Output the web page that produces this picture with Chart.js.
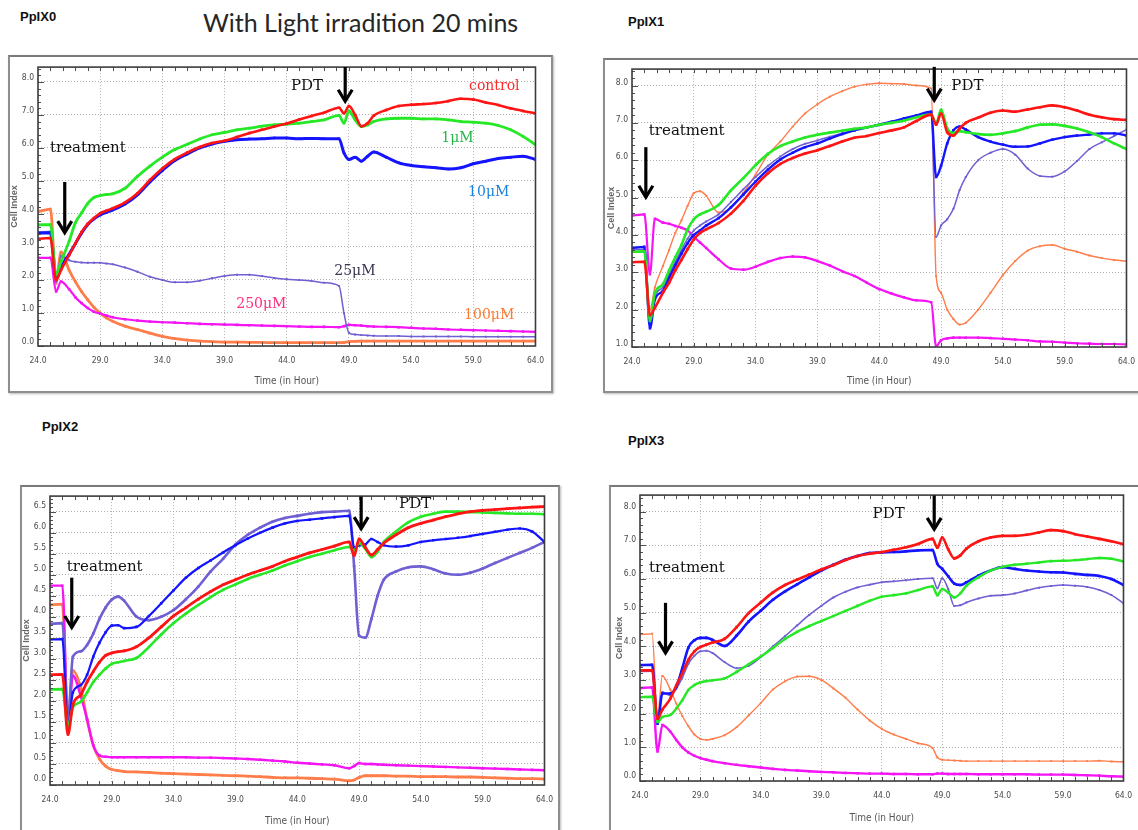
<!DOCTYPE html>
<html><head><meta charset="utf-8">
<script src="https://cdn.jsdelivr.net/npm/chart.js@4.4.1/dist/chart.umd.min.js"></script>
<style>
html,body{margin:0;padding:0;background:#fff;}
body{width:1138px;height:830px;overflow:hidden;position:relative;}
.frame{position:absolute;border:2px solid #8e8e8e;border-top-color:#7a7a7a;background:#fff;box-sizing:border-box;box-shadow:1px 1px 2px #bbb;}
canvas{position:absolute;}
.ptitle{position:absolute;font:bold 13px 'Liberation Sans',Arial,sans-serif;color:#111;white-space:nowrap;}
#main{position:absolute;left:203px;top:7px;font:25px Lato,'Open Sans',sans-serif;color:#262626;white-space:nowrap;}
</style></head><body>
<div class="frame" style="left:8px;top:55px;width:545px;height:338px"></div>
<div class="frame" style="left:603px;top:58px;width:545px;height:335px"></div>
<div class="frame" style="left:20px;top:485px;width:540px;height:360px"></div>
<div class="frame" style="left:609px;top:485px;width:540px;height:360px"></div>
<div class="ptitle" style="left:20px;top:9px">PpIX0</div>
<div class="ptitle" style="left:628px;top:14px">PpIX1</div>
<div class="ptitle" style="left:42px;top:419px">PpIX2</div>
<div class="ptitle" style="left:628px;top:433px">PpIX3</div>
<div id="main">With Light irradition 20 mins</div>
<canvas id="c0" width="556" height="336" style="left:-2px;top:58px"></canvas>
<canvas id="c1" width="553" height="335" style="left:592px;top:60px"></canvas>
<canvas id="c2" width="553" height="346" style="left:10px;top:487px"></canvas>
<canvas id="c3" width="542" height="343" style="left:600px;top:486px"></canvas>
<script>
// time axis (hours) shared by every panel
const hours = [24, 25, 25.45, 25.85, 26.5, 27, 27.5, 28, 28.5, 29, 29.5, 30, 31, 32, 33, 34, 35, 36, 37, 38, 39, 40, 41, 42, 43, 44, 45, 46, 47, 48.2, 48.6, 49, 49.5, 50, 50.5, 51, 52, 53, 54, 55, 56, 57, 58, 59, 60, 61, 62, 63, 64];

const seriesNames = ['control', '1μM', '10μM', '25μM', '250μM', '100μM'];
const seriesColors = ['#ff1414', '#26e826', '#1414ff', '#6e5fd2', '#f414f4', '#ff7d4a'];

// PpIX0
const p0Control = [3.25, 3.27, 2.0, 2.3, 2.75, 3.1, 3.45, 3.7, 3.88, 4.02, 4.1, 4.17, 4.35, 4.63, 5.03, 5.38, 5.66, 5.86, 6.03, 6.15, 6.22, 6.33, 6.45, 6.55, 6.65, 6.74, 6.86, 6.97, 7.07, 7.22, 7.05, 7.27, 7.0, 6.66, 6.75, 6.98, 7.15, 7.27, 7.31, 7.33, 7.36, 7.42, 7.49, 7.47, 7.38, 7.3, 7.2, 7.12, 7.05];
const p0M1 = [3.67, 3.68, 2.15, 2.55, 3.17, 3.73, 4.03, 4.32, 4.5, 4.56, 4.59, 4.61, 4.78, 5.14, 5.45, 5.72, 5.95, 6.11, 6.27, 6.4, 6.47, 6.55, 6.6, 6.66, 6.7, 6.72, 6.75, 6.8, 6.85, 6.99, 6.75, 7.12, 6.85, 6.65, 6.7, 6.8, 6.88, 6.9, 6.9, 6.88, 6.88, 6.85, 6.8, 6.78, 6.75, 6.68, 6.55, 6.35, 6.1];
const p0M10 = [3.42, 3.43, 2.1, 2.4, 2.78, 3.1, 3.42, 3.68, 3.85, 3.97, 4.05, 4.12, 4.3, 4.58, 4.97, 5.32, 5.62, 5.82, 6.0, 6.12, 6.2, 6.25, 6.27, 6.28, 6.3, 6.3, 6.28, 6.29, 6.28, 6.28, 5.85, 5.65, 5.72, 5.6, 5.75, 5.88, 5.72, 5.55, 5.47, 5.43, 5.4, 5.36, 5.4, 5.52, 5.6, 5.68, 5.72, 5.75, 5.65];
const p0M25 = [3.45, 3.47, 1.95, 2.72, 2.6, 2.55, 2.53, 2.52, 2.52, 2.52, 2.5, 2.48, 2.38, 2.25, 2.1, 2.0, 1.93, 1.93, 1.98, 2.05, 2.12, 2.16, 2.16, 2.12, 2.06, 2.02, 2.0, 1.97, 1.92, 1.82, 1.0, 0.4, 0.35, 0.33, 0.32, 0.31, 0.3, 0.3, 0.29, 0.29, 0.29, 0.29, 0.29, 0.28, 0.28, 0.28, 0.28, 0.28, 0.28];
const p0M250 = [2.67, 2.67, 1.65, 1.95, 1.72, 1.48, 1.3, 1.15, 1.04, 0.98, 0.92, 0.87, 0.81, 0.77, 0.74, 0.72, 0.71, 0.69, 0.67, 0.66, 0.65, 0.64, 0.63, 0.62, 0.61, 0.6, 0.59, 0.58, 0.58, 0.57, 0.6, 0.64, 0.63, 0.62, 0.6, 0.59, 0.58, 0.57, 0.55, 0.53, 0.52, 0.5, 0.49, 0.48, 0.47, 0.46, 0.45, 0.44, 0.43];
const p0M100 = [4.07, 4.15, 1.9, 2.85, 2.3, 1.95, 1.65, 1.4, 1.17, 1.0, 0.85, 0.75, 0.6, 0.5, 0.39, 0.29, 0.22, 0.18, 0.15, 0.13, 0.12, 0.12, 0.11, 0.11, 0.1, 0.1, 0.1, 0.1, 0.1, 0.1, 0.11, 0.13, 0.14, 0.15, 0.15, 0.15, 0.15, 0.15, 0.15, 0.15, 0.15, 0.15, 0.15, 0.15, 0.15, 0.15, 0.15, 0.15, 0.15];

// PpIX1
const p1Control = [3.27, 3.28, 1.85, 2.05, 2.45, 2.72, 3.05, 3.33, 3.62, 3.88, 4.05, 4.15, 4.32, 4.57, 4.91, 5.32, 5.65, 5.9, 6.06, 6.18, 6.27, 6.38, 6.5, 6.6, 6.65, 6.73, 6.8, 6.88, 7.05, 7.22, 6.95, 7.25, 6.75, 6.66, 6.85, 7.0, 7.14, 7.27, 7.33, 7.3, 7.36, 7.42, 7.47, 7.42, 7.33, 7.22, 7.15, 7.1, 7.08];
const p1M1 = [3.55, 3.56, 1.7, 2.44, 2.68, 3.05, 3.4, 3.73, 4.15, 4.42, 4.55, 4.62, 4.8, 5.19, 5.52, 5.87, 6.17, 6.38, 6.5, 6.61, 6.68, 6.74, 6.79, 6.84, 6.88, 6.95, 7.0, 7.06, 7.15, 7.22, 6.98, 7.35, 6.85, 6.73, 6.78, 6.75, 6.7, 6.68, 6.72, 6.78, 6.88, 6.95, 6.96, 6.92, 6.85, 6.75, 6.62, 6.45, 6.3];
const p1M10 = [3.65, 3.68, 1.5, 2.27, 2.5, 2.85, 3.18, 3.5, 3.78, 4.0, 4.12, 4.25, 4.45, 4.74, 5.08, 5.43, 5.75, 6.02, 6.2, 6.35, 6.45, 6.58, 6.7, 6.8, 6.88, 6.95, 7.03, 7.12, 7.2, 7.3, 5.55, 5.85, 6.45, 6.8, 6.9, 6.82, 6.62, 6.5, 6.42, 6.36, 6.37, 6.45, 6.55, 6.62, 6.66, 6.69, 6.72, 6.72, 6.66];
const p1M25 = [3.6, 3.62, 1.6, 2.35, 2.6, 2.95, 3.28, 3.6, 3.9, 4.12, 4.25, 4.36, 4.55, 4.88, 5.22, 5.55, 5.85, 6.1, 6.3, 6.44, 6.53, 6.63, 6.72, 6.8, 6.88, 6.96, 7.03, 7.1, 7.17, 7.25, 3.95, 4.25, 4.42, 4.7, 5.2, 5.55, 6.0, 6.2, 6.3, 6.15, 5.78, 5.58, 5.56, 5.7, 5.98, 6.3, 6.48, 6.65, 6.82];
const p1M250 = [4.52, 4.55, 2.95, 4.43, 4.33, 4.3, 4.24, 4.19, 4.12, 3.95, 3.8, 3.65, 3.35, 3.1, 3.07, 3.15, 3.28, 3.38, 3.42, 3.4, 3.3, 3.18, 3.03, 2.9, 2.72, 2.55, 2.43, 2.33, 2.25, 2.2, 1.02, 1.18, 1.23, 1.25, 1.25, 1.25, 1.25, 1.24, 1.22, 1.2, 1.18, 1.15, 1.14, 1.12, 1.1, 1.09, 1.08, 1.08, 1.07];
const p1M100 = [3.55, 3.56, 2.0, 2.6, 3.17, 3.6, 4.05, 4.39, 4.78, 5.12, 5.17, 5.05, 4.6, 4.72, 5.12, 5.62, 6.15, 6.5, 6.9, 7.25, 7.5, 7.7, 7.85, 7.97, 8.03, 8.06, 8.05, 8.04, 8.0, 7.92, 2.9, 2.45, 2.0, 1.75, 1.6, 1.65, 2.0, 2.45, 2.92, 3.3, 3.58, 3.7, 3.73, 3.63, 3.55, 3.45, 3.38, 3.33, 3.3];

// PpIX2
const p2Control = [2.62, 2.63, 1.2, 1.9, 2.15, 2.45, 2.7, 2.92, 3.08, 3.14, 3.17, 3.19, 3.29, 3.5, 3.76, 4.02, 4.22, 4.42, 4.6, 4.76, 4.88, 5.0, 5.1, 5.2, 5.32, 5.42, 5.52, 5.6, 5.68, 5.78, 5.45, 5.85, 5.65, 5.47, 5.6, 5.75, 5.95, 6.12, 6.22, 6.3, 6.38, 6.45, 6.5, 6.53, 6.55, 6.57, 6.59, 6.61, 6.62];
const p2M1 = [2.27, 2.28, 1.4, 1.85, 1.98, 2.2, 2.45, 2.62, 2.77, 2.88, 2.92, 2.95, 3.02, 3.28, 3.58, 3.85, 4.08, 4.28, 4.47, 4.64, 4.77, 4.9, 5.0, 5.1, 5.22, 5.32, 5.42, 5.5, 5.58, 5.66, 5.58, 5.75, 5.62, 5.42, 5.55, 5.78, 6.03, 6.25, 6.38, 6.45, 6.5, 6.5, 6.49, 6.48, 6.47, 6.46, 6.45, 6.45, 6.44];
const p2M10 = [3.46, 3.47, 1.35, 2.2, 2.38, 2.62, 3.05, 3.38, 3.63, 3.79, 3.8, 3.73, 3.76, 4.02, 4.32, 4.63, 4.93, 5.16, 5.34, 5.53, 5.7, 5.86, 6.0, 6.12, 6.22, 6.28, 6.31, 6.34, 6.37, 6.4, 5.65, 5.7, 5.72, 5.85, 5.78, 5.7, 5.67, 5.7, 5.78, 5.82, 5.85, 5.88, 5.92, 5.97, 6.02, 6.07, 6.1, 6.03, 5.78];
const p2M25 = [3.83, 3.85, 1.55, 3.05, 3.18, 3.33, 3.6, 3.95, 4.22, 4.41, 4.48, 4.38, 4.0, 3.92, 4.0, 4.16, 4.42, 4.72, 5.08, 5.38, 5.72, 5.95, 6.12, 6.26, 6.35, 6.4, 6.45, 6.49, 6.5, 6.52, 5.2, 3.55, 3.5, 3.95, 4.5, 4.88, 5.08, 5.18, 5.2, 5.13, 5.03, 5.0, 5.05, 5.15, 5.28, 5.4, 5.52, 5.64, 5.78];
const p2M250 = [4.74, 4.74, 1.45, 2.6, 2.1, 1.56, 0.94, 0.7, 0.67, 0.66, 0.66, 0.66, 0.66, 0.66, 0.66, 0.66, 0.66, 0.65, 0.65, 0.64, 0.63, 0.62, 0.6, 0.58, 0.56, 0.53, 0.51, 0.49, 0.47, 0.4, 0.45, 0.52, 0.5, 0.5, 0.49, 0.48, 0.47, 0.46, 0.45, 0.44, 0.43, 0.42, 0.41, 0.4, 0.39, 0.38, 0.37, 0.36, 0.35];
const p2M100 = [4.28, 4.3, 1.5, 2.72, 2.3, 1.55, 0.95, 0.62, 0.45, 0.37, 0.34, 0.32, 0.31, 0.3, 0.28, 0.27, 0.26, 0.25, 0.24, 0.23, 0.22, 0.21, 0.2, 0.18, 0.17, 0.17, 0.16, 0.15, 0.14, 0.1, 0.12, 0.18, 0.22, 0.22, 0.22, 0.22, 0.21, 0.21, 0.2, 0.2, 0.2, 0.19, 0.19, 0.18, 0.17, 0.16, 0.15, 0.15, 0.14];

// PpIX3
const p3Control = [3.28, 3.29, 1.85, 2.12, 2.44, 2.84, 3.2, 3.6, 3.85, 3.98, 4.05, 4.11, 4.22, 4.57, 4.99, 5.3, 5.6, 5.82, 5.98, 6.13, 6.28, 6.41, 6.56, 6.68, 6.75, 6.8, 6.87, 6.94, 7.04, 7.19, 6.93, 7.23, 6.88, 6.61, 6.7, 6.9, 7.12, 7.23, 7.28, 7.28, 7.31, 7.38, 7.45, 7.42, 7.33, 7.26, 7.19, 7.12, 7.03];
const p3M1 = [2.49, 2.5, 1.75, 1.9, 1.96, 2.15, 2.4, 2.7, 2.85, 2.93, 2.97, 2.99, 3.05, 3.24, 3.47, 3.7, 3.95, 4.22, 4.43, 4.6, 4.75, 4.9, 5.05, 5.2, 5.35, 5.47, 5.52, 5.57, 5.67, 5.78, 5.52, 5.7, 5.6, 5.45, 5.57, 5.8, 6.05, 6.25, 6.36, 6.42, 6.45, 6.49, 6.53, 6.54, 6.56, 6.59, 6.62, 6.6, 6.52];
const p3M10 = [3.44, 3.45, 1.7, 2.6, 2.6, 2.8, 3.35, 3.96, 4.18, 4.25, 4.25, 4.19, 4.01, 4.32, 4.74, 5.06, 5.38, 5.63, 5.84, 6.05, 6.25, 6.42, 6.57, 6.68, 6.77, 6.79, 6.8, 6.82, 6.85, 6.86, 6.45, 6.3, 6.08, 5.86, 5.82, 5.9, 6.1, 6.25, 6.35, 6.3, 6.25, 6.22, 6.2, 6.19, 6.15, 6.12, 6.09, 6.0, 5.82];
const p3M25 = [3.25, 3.26, 1.7, 2.64, 2.54, 2.74, 3.07, 3.48, 3.72, 3.85, 3.87, 3.8, 3.53, 3.35, 3.42, 3.68, 4.0, 4.3, 4.62, 4.93, 5.2, 5.45, 5.62, 5.75, 5.83, 5.9, 5.93, 5.96, 6.0, 6.02, 5.72, 6.02, 5.7, 5.2, 5.22, 5.3, 5.42, 5.5, 5.52, 5.57, 5.66, 5.74, 5.79, 5.82, 5.8, 5.76, 5.67, 5.52, 5.28];
const p3M250 = [2.76, 2.78, 0.88, 1.66, 1.47, 1.22, 1.0, 0.85, 0.75, 0.68, 0.63, 0.59, 0.53, 0.48, 0.44, 0.4, 0.36, 0.33, 0.31, 0.29, 0.27, 0.26, 0.24, 0.23, 0.22, 0.22, 0.21, 0.21, 0.2, 0.2, 0.22, 0.22, 0.21, 0.21, 0.21, 0.21, 0.2, 0.2, 0.2, 0.2, 0.2, 0.19, 0.19, 0.19, 0.18, 0.17, 0.16, 0.14, 0.13];
const p3M100 = [4.35, 4.37, 1.9, 3.12, 2.72, 2.3, 1.93, 1.63, 1.38, 1.25, 1.22, 1.25, 1.36, 1.6, 1.95, 2.32, 2.72, 2.96, 3.1, 3.11, 3.0, 2.75, 2.47, 2.12, 1.8, 1.55, 1.38, 1.25, 1.12, 0.98, 0.7, 0.63, 0.62, 0.61, 0.6, 0.59, 0.59, 0.59, 0.59, 0.59, 0.59, 0.59, 0.59, 0.59, 0.59, 0.59, 0.6, 0.58, 0.57];

// tick labels
const xTicks = [24, 29, 34, 39, 44, 49, 54, 59, 64];
const yTicks0 = [0, 1, 2, 3, 4, 5, 6, 7, 8];
const yTicks1 = [1, 2, 3, 4, 5, 6, 7, 8];
const yTicks2 = [0, 0.5, 1, 1.5, 2, 2.5, 3, 3.5, 4, 4.5, 5, 5.5, 6, 6.5];
const yTicks3 = [0, 1, 2, 3, 4, 5, 6, 7, 8];

// annotations (data coordinates: hours, cell index)
const p0Arrows = [{x: 26.15, y1: 4.97, y2: 3.39}, {x: 48.7, y1: 8.45, y2: 7.37}];
const p1Arrows = [{x: 25.12, y1: 6.35, y2: 4.97}, {x: 48.45, y1: 8.5, y2: 7.57}];
const p2Arrows = [{x: 25.76, y1: 4.93, y2: 3.71}, {x: 49.17, y1: 6.86, y2: 6.06}];
const p3Arrows = [{x: 26.11, y1: 5.29, y2: 3.76}, {x: 48.34, y1: 8.48, y2: 7.43}];
const p0Texts = [
  {t: 'treatment', x: 24.96, y: 5.99, c: '#111', a: 'left'},
  {t: 'PDT', x: 45.63, y: 7.88, c: '#111', a: 'center'},
  {t: 'control', x: 58.66, y: 7.88, c: '#ff2a2a', a: 'left'},
  {t: '1μM', x: 56.43, y: 6.29, c: '#22b848', a: 'left'},
  {t: '10μM', x: 58.58, y: 4.67, c: '#1f7fdc', a: 'left'},
  {t: '25μM', x: 47.82, y: 2.25, c: '#3b3452', a: 'left'},
  {t: '250μM', x: 39.94, y: 1.26, c: '#ff2e7e', a: 'left'},
  {t: '100μM', x: 58.26, y: 0.93, c: '#ff7a30', a: 'left'}
];
const p1Texts = [{t: 'treatment', x: 25.36, y: 6.77, c: '#111', a: 'left'}, {t: 'PDT', x: 51.13, y: 7.98, c: '#111', a: 'center'}];
const p2Texts = [{t: 'treatment', x: 25.36, y: 5.19, c: '#111', a: 'left'}, {t: 'PDT', x: 53.54, y: 6.67, c: '#111', a: 'center'}];
const p3Texts = [{t: 'treatment', x: 24.74, y: 6.33, c: '#111', a: 'left'}, {t: 'PDT', x: 44.57, y: 7.92, c: '#111', a: 'center'}];

const decor = {
  id: 'decor',
  afterDraw(chart, args, o) {
    const {ctx, chartArea: a, scales: {x, y}} = chart;
    ctx.save();
    ctx.strokeStyle = '#505050';
    ctx.lineWidth = 1;
    ctx.beginPath();
    for (let h = 25; h < 64; h++) {
      const px = Math.round(x.getPixelForValue(h)) + 0.5;
      ctx.moveTo(px, a.top); ctx.lineTo(px, a.top + 4);
      ctx.moveTo(px, a.bottom); ctx.lineTo(px, a.bottom - 4);
    }
    const n0 = Math.ceil(y.min / o.minor - 1e-6), n1 = Math.floor(y.max / o.minor + 1e-6);
    for (let k = n0; k <= n1; k++) {
      const py = Math.round(y.getPixelForValue(k * o.minor)) + 0.5;
      const len = (Math.abs(k * o.minor / o.major - Math.round(k * o.minor / o.major)) < 1e-6) ? 6 : 3;
      ctx.moveTo(a.left, py); ctx.lineTo(a.left + len, py);
    }
    ctx.stroke();
    ctx.strokeStyle = '#3c3c3c';
    ctx.lineWidth = 1.6;
    ctx.strokeRect(a.left, a.top, a.right - a.left, a.bottom - a.top);
    // arrows
    ctx.strokeStyle = '#000';
    ctx.lineWidth = 3.2;
    ctx.lineJoin = 'miter';
    for (const ar of o.arrows) {
      const px = x.getPixelForValue(ar.x), y1 = y.getPixelForValue(ar.y1), y2 = y.getPixelForValue(ar.y2);
      ctx.beginPath(); ctx.moveTo(px, y1); ctx.lineTo(px, y2 - 2); ctx.stroke();
      ctx.beginPath(); ctx.moveTo(px - 7, y2 - 13); ctx.lineTo(px, y2 - 1.5); ctx.lineTo(px + 7, y2 - 13); ctx.stroke();
    }
    // texts
    ctx.textBaseline = 'middle';
    for (const t of o.texts) {
      ctx.fillStyle = t.c;
      ctx.textAlign = t.a;
      ctx.font = (t.t === 'treatment' || t.t === 'PDT' ? '15px' : '14px') + ' "DejaVu Serif","Liberation Serif",serif';
      ctx.fillText(t.t, x.getPixelForValue(t.x), y.getPixelForValue(t.y));
    }
    ctx.restore();
  }
};

const tickFont = {family: "'Liberation Sans Narrow','DejaVu Sans Condensed','Liberation Sans',sans-serif", size: 8.5};

function build(id, series, yMin, yMax, yTicks, cfg) {
  const datasets = series.map((vals, i) => ({
    label: seriesNames[i],
    data: hours.map((h, k) => ({x: h, y: vals[k]})),
    borderColor: seriesColors[i],
    backgroundColor: seriesColors[i],
    borderWidth: cfg.widths[i],
    pointRadius: cfg.widths[i] > 2 ? 1.8 : 1.4,
    pointStyle: 'rect',
    pointBorderWidth: 0,
    cubicInterpolationMode: 'monotone'
  }));
  return new Chart(document.getElementById(id), {
    type: 'line',
    data: {datasets},
    options: {
      responsive: false, animation: false, events: [],
      layout: {padding: {left: 0, right: 14, top: 6, bottom: 0}},
      plugins: {legend: {display: false}, tooltip: {enabled: false},
        decor: {minor: cfg.minor, major: cfg.major, arrows: cfg.arrows, texts: cfg.texts}},
      scales: {
        x: {
          type: 'linear', min: 24, max: 64,
          afterBuildTicks: s => { s.ticks = xTicks.map(v => ({value: v})); },
          afterFit: s => { s.height = 48; },
          ticks: {callback: v => Number(v).toFixed(1), font: tickFont, color: '#4a4a4a', padding: 10, maxRotation: 0, autoSkip: false},
          grid: {color: '#b2b2b2', lineWidth: 1, drawTicks: false},
          border: {display: false, dash: [1, 2]},
          title: {display: true, text: 'Time (in Hour)', color: '#555',
            font: {family: tickFont.family, size: 10}, padding: {top: 0, bottom: cfg.xtp}}
        },
        y: {
          type: 'linear', min: yMin, max: yMax,
          afterBuildTicks: s => { s.ticks = yTicks.map(v => ({value: v})); },
          afterFit: s => { s.width = 40; },
          ticks: {callback: v => Number(v).toFixed(1), font: tickFont, color: '#4a4a4a', padding: 4, labelOffset: cfg.lo, autoSkip: false},
          grid: {color: '#b2b2b2', lineWidth: 1, drawTicks: false},
          border: {display: false, dash: [1, 2]},
          title: {display: true, text: 'Cell Index', color: '#666',
            font: {family: "'Liberation Sans',Arial,sans-serif", size: 9, weight: 'bold'}, padding: {top: cfg.ytp, bottom: 0}}
        }
      }
    },
    plugins: [decor]
  });
}

build('c0', [p0Control, p0M1, p0M10, p0M25, p0M250, p0M100], 0, 8.45, yTicks0,
  {minor: 0.2, major: 1, arrows: p0Arrows, texts: p0Texts, xtp: 7, ytp: 11.5, lo: -4, widths: [2.6, 2.8, 3.0, 1.5, 2.2, 2.8]});
build('c1', [p1Control, p1M1, p1M10, p1M25, p1M250, p1M100], 1, 8.44, yTicks1,
  {minor: 0.2, major: 1, arrows: p1Arrows, texts: p1Texts, xtp: 8, ytp: 14, lo: -3, widths: [2.6, 2.6, 2.4, 1.5, 2.2, 1.4]});
build('c2', [p2Control, p2M1, p2M10, p2M25, p2M250, p2M100], 0, 6.87, yTicks2,
  {minor: 0.1, major: 0.5, arrows: p2Arrows, texts: p2Texts, xtp: 6, ytp: 11.5, lo: -6, widths: [2.8, 2.6, 2.2, 2.6, 2.4, 2.8]});
build('c3', [p3Control, p3M1, p3M10, p3M25, p3M250, p3M100], 0, 8.49, yTicks3,
  {minor: 0.2, major: 1, arrows: p3Arrows, texts: p3Texts, xtp: 5, ytp: 14, lo: -5, widths: [2.6, 2.4, 2.6, 1.6, 2.4, 1.4]});
</script>
</body></html>
